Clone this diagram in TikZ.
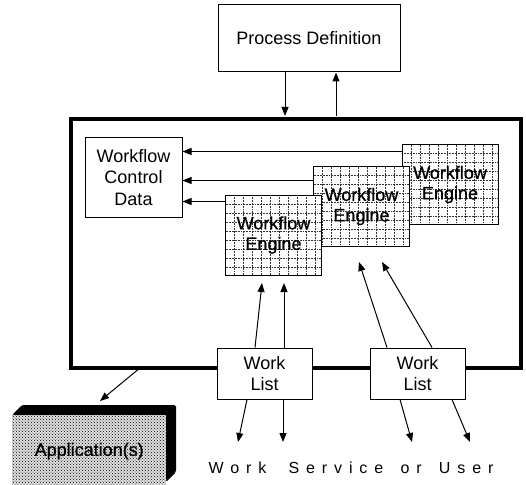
\documentclass[tikz,border=0pt]{standalone}
\usepackage{fontspec}
\setmainfont{Liberation Sans}
\usetikzlibrary{arrows.meta,patterns,calc}

\begin{document}
\begin{tikzpicture}[x=1pt,y=-1pt,
  every node/.style={font=\fontsize{18}{21.5}\selectfont, align=center, inner sep=0pt},
  box/.style={draw, line width=1pt, fill=white},
  heavy/.style={font=\fontsize{18}{20.5}\selectfont\addfontfeature{FakeBold=0.8}},
  conn/.style={line width=1pt, -{Triangle[length=9pt,width=7pt]}},
  gridline/.style={densely dotted, line width=0.55pt, black!80},
  engine/.style={box, heavy, minimum width=96pt, minimum height=80pt,
    path picture={
      \foreach \k in {1,...,10}
        \draw[gridline] ([xshift=\k*9pt]path picture bounding box.north west)
                     -- ([xshift=\k*9pt]path picture bounding box.south west);
      \foreach \k in {1,...,8}
        \draw[gridline] ([yshift=-\k*9pt]path picture bounding box.north west)
                     -- ([yshift=-\k*9pt]path picture bounding box.north east);
    }},
]
\useasboundingbox (0,0) rectangle (526,484);

% process definition and the enclosing workflow system
\node[box, minimum width=182pt, minimum height=67pt] (pd) at (309,38.5) {Process Definition};
\node[draw, line width=3.2pt, minimum width=450pt, minimum height=249pt] (frame) at (296,243.5) {};

\node[box, minimum width=97pt, minimum height=80pt] (wcd) at (133.5,177.5) {Workflow\\Control\\Data};

% stacked workflow engines, back to front
\node[engine] (engine3) at (450,184.5) {Workflow\\Engine};
\node[engine] (engine2) at (361.5,206.5) {Workflow\\Engine};
\node[engine] (engine1) at (273.5,235) {Workflow\\Engine};

% work lists sitting on the lower border
\node[box, minimum width=95pt, minimum height=51pt] (wl1) at (264.5,373.5) {Work\\List};
\node[box, minimum width=95pt, minimum height=51pt] (wl2) at (417.5,373.5) {Work\\List};

% applications block
\fill[black, rounded corners=1.5pt] (12,415) -- (22,405) -- (176,405) -- (176,472) -- (166,482) -- (166,415) -- cycle;
\node[heavy, preaction={fill=black!12}, pattern=crosshatch dots, minimum width=154pt, minimum height=72pt, anchor=north west] (app) at (12,415) {Application(s)};

% caption for the users
\node[font=\fontsize{16}{19}\selectfont\addfontfeature{LetterSpace=43}] (users) at (351,468) {Work\hspace{11pt} Service\hspace{6pt} or\hspace{6pt} User};

% process definition <-> workflow system
\coordinate (pdx1) at (285,0);
\coordinate (pdx2) at (336,0);
\draw[conn, shorten >=1.5pt] (pd.south -| pdx1) -- (frame.north -| pdx1);
\draw[conn, shorten <=1.5pt] (frame.north -| pdx2) -- (pd.south -| pdx2);

% engines -> control data
\coordinate (e3a) at ($(engine3.north west)+(0,7.5)$);
\coordinate (e2a) at ($(engine2.north west)+(0,14.5)$);
\coordinate (e1a) at ($(engine1.north west)+(0,7)$);
\draw[conn] (e3a) -- (e3a -| wcd.east);
\draw[conn] (e2a) -- (e2a -| wcd.east);
\draw[conn] (e1a) -- (e1a -| wcd.east);

% work lists -> engines
\coordinate (u1) at (255,0);  \coordinate (t1) at (262,283);
\coordinate (u2) at (284,0);  \coordinate (t2) at (284,283);
\coordinate (u3) at (387,0);  \coordinate (t3) at (359,262);
\coordinate (u4) at (432,0);  \coordinate (t4) at (382,262);
\draw[conn] (wl1.north -| u1) -- (t1);
\draw[conn] (wl1.north -| u2) -- (t2);
\draw[conn] (wl2.north -| u3) -- (t3);
\draw[conn] (wl2.north -| u4) -- (t4);

% work lists -> users
\coordinate (d1) at (247,0);  \coordinate (b1) at (238,442);
\coordinate (d2) at (283,0);  \coordinate (b2) at (283,442);
\coordinate (d3) at (400,0);  \coordinate (b3) at (412,442);
\coordinate (d4) at (452,0);  \coordinate (b4) at (470,442);
\draw[conn] (wl1.south -| d1) -- (b1);
\draw[conn] (wl1.south -| d2) -- (b2);
\draw[conn] (wl2.south -| d3) -- (b3);
\draw[conn] (wl2.south -| d4) -- (b4);

% workflow system -> applications
\coordinate (ax) at (138,0);
\coordinate (apptip) at (100,401);
\draw[conn] (frame.south -| ax) -- (apptip);
\end{tikzpicture}
\end{document}
